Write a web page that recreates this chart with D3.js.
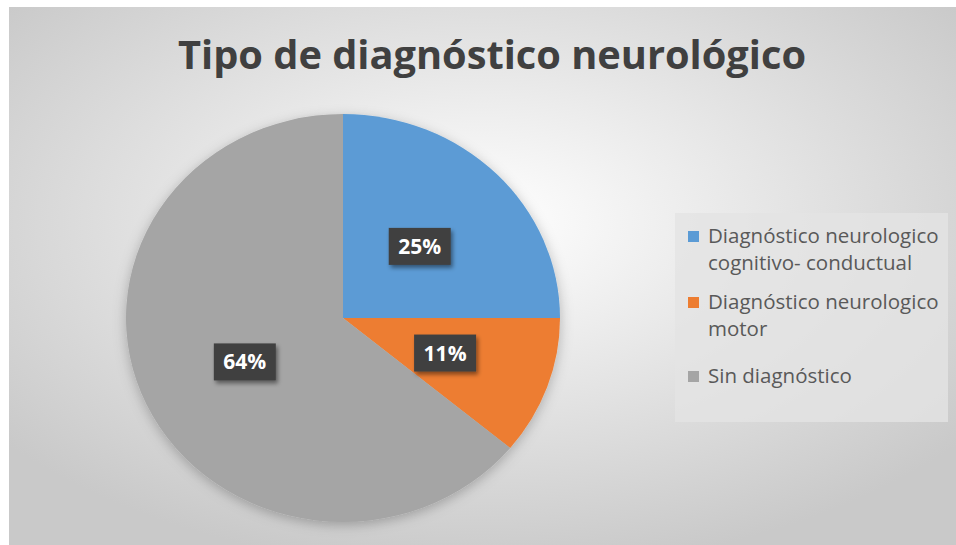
<!DOCTYPE html>
<html>
<head>
<meta charset="utf-8">
<script src="https://cdn.jsdelivr.net/npm/d3@7"></script>
<style>
  body { margin: 0; background: #fff; }
  text { font-family: "Open Sans", "Liberation Sans", sans-serif; }
</style>
</head>
<body>
<section></section>
<script>
const title = "Tipo de diagnóstico neurológico";
const categories = [
  ["Diagnóstico neurologico", "cognitivo- conductual"],
  ["Diagnóstico neurologico", "motor"],
  ["Sin diagnóstico"]
];
const values = [25, 11, 64];
const colors = ["#5b9bd5", "#ed7d31", "#a5a5a5"];

const w = 956;
const h = 545;
const cx = 343;
const cy = 318;
const ry = 204;
const rx = 217;

const svg = d3.select("section").append("svg").attr("width", w).attr("height", h);
const defs = svg.append("defs");

const bg = defs.append("radialGradient").attr("id", "bg")
  .attr("cx", "50%").attr("cy", "40%").attr("r", "65%");
bg.append("stop").attr("offset", "0%").attr("stop-color", "#ffffff");
bg.append("stop").attr("offset", "100%").attr("stop-color", "#c9c9c9");

const shadow = defs.append("filter").attr("id", "shadow")
  .attr("x", "-30%").attr("y", "-30%").attr("width", "160%").attr("height", "180%");
shadow.append("feDropShadow").attr("dx", 2).attr("dy", 3).attr("stdDeviation", 2)
  .attr("flood-color", "#000").attr("flood-opacity", 0.45);

const pieShadow = defs.append("filter").attr("id", "pieShadow")
  .attr("x", "-20%").attr("y", "-20%").attr("width", "140%").attr("height", "140%");
pieShadow.append("feDropShadow").attr("dx", 0).attr("dy", 3).attr("stdDeviation", 6)
  .attr("flood-color", "#000").attr("flood-opacity", 0.25);

svg.append("rect").attr("x", 9).attr("y", 7).attr("width", w - 9).attr("height", h - 7)
  .attr("fill", "url(#bg)");

svg.append("text")
  .attr("x", 492).attr("y", 69)
  .attr("text-anchor", "middle")
  .attr("font-size", 40).attr("font-weight", "bold")
  .attr("fill", "#404040")
  .attr("textLength", 628).attr("lengthAdjust", "spacingAndGlyphs")
  .text(title);

const pie = d3.pie().sort(null).value(d => d);
const arcs = pie(values);
const arc = d3.arc().innerRadius(0).outerRadius(ry);

const g = svg.append("g")
  .attr("transform", `translate(${cx},${cy}) scale(${rx / ry},1)`);

g.append("g").attr("filter", "url(#pieShadow)")
  .selectAll("path")
  .data(arcs)
  .enter()
  .append("path")
  .attr("d", arc)
  .attr("fill", (d, i) => colors[i]);

const labelArc = d3.arc().innerRadius(ry * 0.5).outerRadius(ry * 0.5);
const total = d3.sum(values);

const labels = svg.append("g")
  .selectAll("g")
  .data(arcs)
  .enter()
  .append("g")
  .attr("transform", d => {
    const [x, y] = labelArc.centroid(d);
    return `translate(${cx + x * rx / ry},${cy + y})`;
  });

labels.append("rect")
  .attr("x", -31).attr("y", -18).attr("width", 62).attr("height", 37)
  .attr("fill", "#404040")
  .attr("filter", "url(#shadow)");

labels.append("text")
  .attr("text-anchor", "middle")
  .attr("y", 8)
  .attr("font-size", 21).attr("font-weight", "bold")
  .attr("fill", "#fff")
  .text(d => Math.round(d.data / total * 100) + "%");

// legend
svg.append("rect")
  .attr("x", 675).attr("y", 213).attr("width", 273).attr("height", 209)
  .attr("fill", "#e3e3e3")
  .attr("opacity", 0.8);

const legendY = [243, 309, 383];
const legend = svg.append("g")
  .selectAll("g")
  .data(categories)
  .enter()
  .append("g")
  .attr("transform", (d, i) => `translate(688,${legendY[i]})`);

legend.append("rect")
  .attr("x", 0).attr("y", -12).attr("width", 11).attr("height", 11)
  .attr("fill", (d, i) => colors[i]);

legend.append("text")
  .attr("x", 20)
  .attr("font-size", 20.5)
  .attr("fill", "#595959")
  .selectAll("tspan")
  .data(d => d)
  .enter()
  .append("tspan")
  .attr("x", 20)
  .attr("dy", (d, i) => i === 0 ? 0 : 27)
  .text(d => d);
</script>
</body>
</html>
